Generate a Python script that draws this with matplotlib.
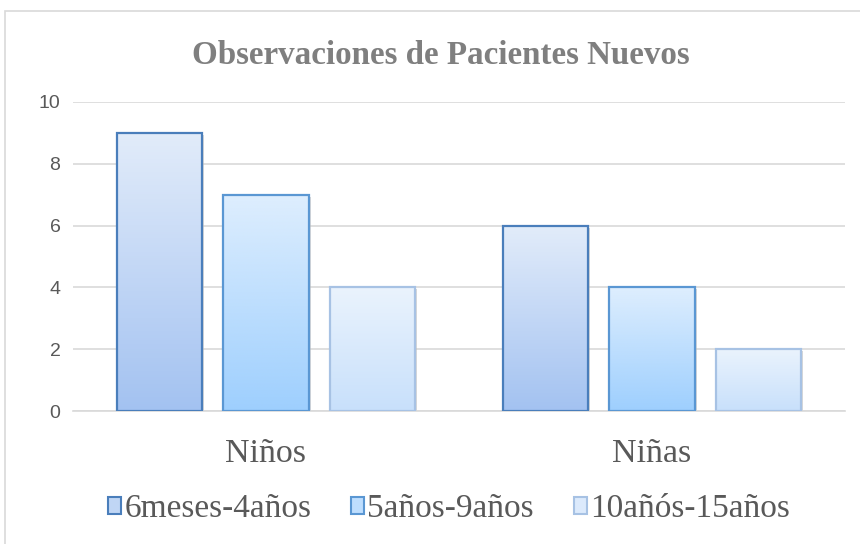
import numpy as np
import matplotlib
matplotlib.use("Agg")
import matplotlib.pyplot as plt
from matplotlib.patches import Patch, Rectangle
from matplotlib.colors import LinearSegmentedColormap
import matplotlib.patheffects as pe

categories = ['Niños', 'Niñas']
series = ['6meses-4años', '5años-9años', '10añós-15años']
values = [
    [9, 6],
    [7, 4],
    [4, 2],
]
yticks = [0, 2, 4, 6, 8, 10]

# gradient colours (top, bottom) and edge colour per series
tops = ['#E2ECFA', '#DEEEFE', '#EAF3FD']
bottoms = ['#A3C2F1', '#9ECFFE', '#C8E0FB']
edges = ['#4A7EBB', '#5A97D3', '#A7C2E4']

fig = plt.figure(figsize=(8.6, 5.44), dpi=100)
ax = fig.add_axes([73/860, 1-411/544, (845-73)/860, (411-102)/544])

# outer chart frame
fig.patches.append(Rectangle((5/860, -0.1), 1.2, 1-11/544+0.1, transform=fig.transFigure,
                             fill=False, edgecolor='#D9D9D9', linewidth=1.2))

x = np.arange(len(categories))
offsets = [-0.276, 0.0, 0.276]
width = 0.222
grad = np.linspace(0, 1, 256).reshape(-1, 1)

for i, name in enumerate(series):
    cmap = LinearSegmentedColormap.from_list('g%d' % i, [bottoms[i], tops[i]])
    bars = ax.bar(x + offsets[i], values[i], width, color='white', edgecolor='none', zorder=2,
                  path_effects=[pe.SimplePatchShadow(offset=(1.5, -1.5), shadow_rgbFace='#BFBFBF', alpha=0.6),
                                pe.Normal()])
    for b in bars:
        x0, y0 = b.get_x(), b.get_y()
        im = ax.imshow(grad, extent=[x0, x0 + b.get_width(), y0, y0 + b.get_height()],
                       origin='lower', cmap=cmap, aspect='auto', zorder=3, interpolation='bicubic')
        im.set_clip_path(b)
    ax.bar(x + offsets[i], values[i], width, color='none', edgecolor=edges[i], linewidth=1.6, zorder=4)

ax.set_xlim(-0.5, 1.5)
ax.set_ylim(0, 10)
ax.set_yticks(yticks)
ax.set_yticklabels([str(v) for v in yticks], fontsize=14, color='#595959', family='Liberation Sans')
ax.set_xticks(x)
ax.set_xticklabels(categories, fontsize=24.5, color='#595959', family='Liberation Serif')
ax.tick_params(axis='both', length=0)
ax.tick_params(axis='x', pad=20)
ax.tick_params(axis='y', pad=9)
ax.grid(axis='y', color='#D9D9D9', linewidth=1.2, zorder=0)
ax.set_axisbelow(True)
for s in ['top', 'right', 'left']:
    ax.spines[s].set_visible(False)
ax.spines['bottom'].set_color('#D9D9D9')
ax.spines['bottom'].set_linewidth(1.2)

fig.text(441/860, 1-55/544, 'Observaciones de Pacientes Nuevos', ha='center', va='center',
         fontsize=23.8, fontweight='bold', color='#7F7F7F', family='Liberation Serif')

mids = ['#C0D6F5', '#BEDEFE', '#DCEAFC']
handles = [Patch(facecolor=mids[i], edgecolor=edges[i], linewidth=1.5) for i in range(3)]
fig.legend(handles, series, loc='center', bbox_to_anchor=(449/860, 1-509/544), ncol=3,
           frameon=False, prop={'family': 'Liberation Serif', 'size': 24},
           labelcolor='#595959', handlelength=0.38, handleheight=0.38, handletextpad=0.1,
           columnspacing=1.2)

fig.savefig('out.png', dpi=100)
